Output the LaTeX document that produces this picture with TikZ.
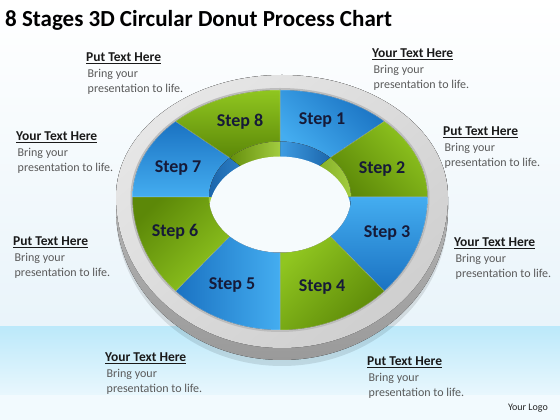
\documentclass[tikz,border=0pt]{standalone}
\usepackage{fontspec}
\setmainfont{Carlito}
\usetikzlibrary{positioning}
\definecolor{stepblueL}{HTML}{44ADF0}
\definecolor{stepblueD}{HTML}{1A72C2}
\definecolor{stepgreenL}{HTML}{90C620}
\definecolor{stepgreenD}{HTML}{5C8808}
\definecolor{wallblueL}{HTML}{3E9CE2}
\definecolor{wallblueD}{HTML}{1C66AC}
\definecolor{wallgreenL}{HTML}{A2CC40}
\definecolor{wallgreenD}{HTML}{658F0C}
\definecolor{ringL}{HTML}{E6E6E6}
\definecolor{ringD}{HTML}{CFCFCF}
\definecolor{ringlip}{HTML}{BDBDBD}
\definecolor{ringsideL}{HTML}{C6C6C6}
\definecolor{ringsideD}{HTML}{9A9A9A}
\definecolor{labelnavy}{HTML}{161A38}
\definecolor{bodygray}{HTML}{5A5A5A}
\definecolor{headblack}{HTML}{1A1A1A}
\definecolor{skyband}{HTML}{BCE9FA}
\definecolor{skyfade}{HTML}{E9F7FD}
\definecolor{bgtint}{HTML}{E9F4FA}
\definecolor{holefill}{HTML}{F6FBFD}
\tikzset{
  steplabel/.style={font=\fontsize{18}{18}\selectfont\bfseries, text=labelnavy, inner sep=0pt},
  headtxt/.style={font=\fontsize{13.5}{15}\selectfont\bfseries, text=headblack, inner sep=0pt},
  bodytxt/.style={font=\fontsize{12}{15}\selectfont, text=bodygray, align=left, inner sep=0pt},
  segline/.style={draw=white, draw opacity=0.35, line width=0.5pt}
}
% one coloured sector of the donut top
\newcommand{\DonutSeg}[6]{%
  \fill[top color=#4, bottom color=#5, shading angle=#6, segline]
    ({\cx+\rOx*cos(#1)},{\cy+#3*sin(#1)})
    arc[start angle=#1, end angle=#2, x radius=\rOx, y radius=#3]
    -- ({\cx+\rIx*cos(#2)},{\cy+\rIy*sin(#2)})
    arc[start angle=#2, end angle=#1, x radius=\rIx, y radius=\rIy] -- cycle;
}
% inner wall piece
\newcommand{\WallSeg}[4]{%
  \fill[left color=#3, right color=#4]
    (\cx,\cy) -- ({\cx+\rIx*cos(#1)},{\cy+\rIy*sin(#1)})
    arc[start angle=#1, end angle=#2, x radius=\rIx, y radius=\rIy] -- cycle;
}

\begin{document}
\begin{tikzpicture}[x=1pt, y=1pt]
  \useasboundingbox (0,0) rectangle (560,420);
  % background
  \shade[top color=white, bottom color=bgtint] (0,93) rectangle (560,420);
  \shade[top color=skyband, bottom color=skyfade] (0,25) rectangle (560,93);
  \fill[skyfade!60!white] (0,0) rectangle (560,25);
  % donut sizes
  \def\cx{280}\def\cy{223}
  \def\rOx{147.5}\def\rOt{107}\def\rOb{133}
  \def\rIx{71}\def\rIy{55.5}
  \def\rRx{166}\def\rRt{122}\def\rRb{151}
  % grey ring: shadow, side, top
  \fill[black, opacity=0.10] ({\cx+2+\rRx},{\cy-4})
    arc[start angle=0, end angle=180, x radius=\rRx, y radius=\rRt]
    -- ++(0,-12) arc[start angle=180, end angle=360, x radius=\rRx, y radius=\rRb+2] -- cycle;
  \fill[top color=ringsideL, bottom color=ringsideD] ({\cx+2+\rRx},\cy)
    arc[start angle=0, end angle=180, x radius=\rRx, y radius=\rRt]
    -- ++(0,-12) arc[start angle=180, end angle=360, x radius=\rRx, y radius=\rRb] -- cycle;
  \fill[top color=ringL, bottom color=ringD, shading angle=40] ({\cx+2+\rRx},\cy)
    arc[start angle=0, end angle=180, x radius=\rRx, y radius=\rRt]
    arc[start angle=180, end angle=360, x radius=\rRx, y radius=\rRb] -- cycle;
  % lip round the coloured top
  \fill[ringlip] ({\cx+\rOx+2},\cy)
    arc[start angle=0, end angle=180, x radius=\rOx+2, y radius=\rOt+2]
    arc[start angle=180, end angle=360, x radius=\rOx+2, y radius=\rOb+2] -- cycle;
  % sectors, Step 1 to Step 8
  \DonutSeg{45}{90}{\rOt}{stepblueL}{stepblueD}{135}
  \DonutSeg{0}{45}{\rOt}{stepgreenL}{stepgreenD}{315}
  \DonutSeg{-45}{0}{\rOb}{stepblueL}{stepblueD}{0}
  \DonutSeg{-90}{-45}{\rOb}{stepgreenL}{stepgreenD}{45}
  \DonutSeg{-135}{-90}{\rOb}{stepblueL}{stepblueD}{270}
  \DonutSeg{-180}{-135}{\rOb}{stepgreenL}{stepgreenD}{225}
  \DonutSeg{135}{180}{\rOt}{stepblueL}{stepblueD}{180}
  \DonutSeg{90}{135}{\rOt}{stepgreenL}{stepgreenD}{0}
  % inner wall and hole
  \WallSeg{45}{90}{wallblueL}{wallblueD}
  \WallSeg{0}{45}{wallgreenD}{wallgreenL}
  \WallSeg{-45}{0}{wallblueD}{wallblueL}
  \WallSeg{-90}{-45}{wallgreenD}{wallgreenL}
  \WallSeg{-135}{-90}{wallblueL}{wallblueD}
  \WallSeg{-180}{-135}{wallgreenL}{wallgreenD}
  \WallSeg{135}{180}{wallblueD}{wallblueL}
  \WallSeg{90}{135}{wallgreenD}{wallgreenL}
  \begin{scope}
    \clip (\cx,\cy) ellipse [x radius=\rIx, y radius=\rIy];
    \fill[holefill] (\cx,\cy-15) ellipse [x radius=\rIx, y radius=\rIy];
  \end{scope}
  % step labels
  \node[steplabel] (s1) at (322,300) {Step 1};
  \node[steplabel] (s2) at (382,251) {Step 2};
  \node[steplabel] (s3) at (387,187) {Step 3};
  \node[steplabel] (s4) at (322,133) {Step 4};
  \node[steplabel] (s5) at (232,135) {Step 5};
  \node[steplabel] (s6) at (175,188) {Step 6};
  \node[steplabel] (s7) at (178,252) {Step 7};
  \node[steplabel] (s8) at (240,298) {Step 8};
  % title
  \node[font=\fontsize{23}{23}\selectfont\bfseries, inner sep=0pt, anchor=base west] (title)
    at (5,393) {8 Stages 3D Circular Donut Process Chart};
  % text blocks round the donut
  \foreach \n/\hx/\hy/\htxt in {1/86/358.5/Put Text Here, 2/372/362.5/Your Text Here,
      3/443/284.5/Put Text Here, 4/454/173.5/Your Text Here, 5/16/279.5/Your Text Here,
      6/13/174.5/Put Text Here, 7/105/58.5/Your Text Here, 8/367/54.5/Put Text Here}{
    \node[headtxt, anchor=base west] (h\n) at (\hx,\hy) {\underline{\htxt}};
    \node[bodytxt, anchor=north west] (b\n) at ([xshift=1.5pt, yshift=-8pt]h\n.base west)
      {Bring your\\presentation to life.};
  }
  \node[font=\fontsize{10}{10}\selectfont, text=black!85, inner sep=0pt, anchor=base east] (logo)
    at (548,9) {Your Logo};
\end{tikzpicture}
\end{document}
